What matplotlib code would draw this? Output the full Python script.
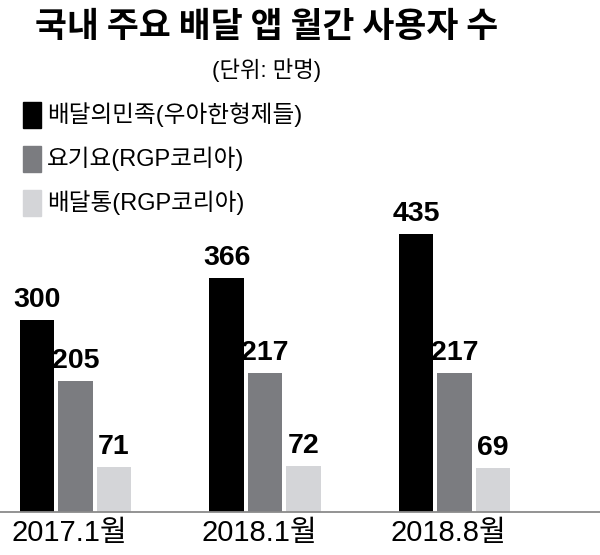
import matplotlib
matplotlib.use("Agg")
import matplotlib.pyplot as plt
from matplotlib import font_manager
from matplotlib.patches import Rectangle

# data
periods = ["2017.1월", "2018.1월", "2018.8월"]
apps = ["배달의민족(우아한형제들)", "요기요(RGP코리아)", "배달통(RGP코리아)"]
baemin = [300, 366, 435]
yogiyo = [205, 217, 217]
baedaltong = [71, 72, 69]

title = "국내 주요 배달 앱 월간 사용자 수"
unit = "(단위: 만명)"

colors = ["#000000", "#7b7c80", "#d4d5d8"]

names = {f.name for f in font_manager.fontManager.ttflist}
latin = "Liberation Sans Narrow" if "Liberation Sans Narrow" in names else "Liberation Sans"
plt.rcParams["font.family"] = [latin, "Noto Sans CJK KR", "DejaVu Sans"]

W, H = 600, 555
fig = plt.figure(figsize=(W / 100, H / 100), dpi=100)


def px(x, y):
    # pixel from top-left -> figure fraction
    return x / W, 1 - y / H


# bar axes: baseline at y=512px, 0.64 px per unit, group spacing 189.5 px
base_px = 512
top_px = 200
scale = 0.64
ax = fig.add_axes([0, (H - base_px) / H, 1, (base_px - top_px) / H])
ax.set_ylim(0, (base_px - top_px) / scale)
ax.set_xlim(-75.5 / 189.5, (W - 75.5) / 189.5)
ax.axis("off")

width = 0.182
step = 0.203
series = [baemin, yogiyo, baedaltong]
for i, vals in enumerate(series):
    xs = [g + (i - 1) * step for g in range(len(periods))]
    bars = ax.bar(xs, vals, width=width, color=colors[i], zorder=2)
    for b, v in zip(bars, vals):
        ax.text(b.get_x() + b.get_width() / 2, v + 11, str(v),
                ha="center", va="bottom", fontsize=20.5, fontweight="bold",
                clip_on=False)

ax.axhline(0, color="#8a8a8a", lw=1.3, zorder=3, clip_on=False)

for g, label in enumerate(periods):
    ax.text(g - 0.03, -11, label, ha="center", va="top", fontsize=21,
            clip_on=False)

# title and unit
fig.text(*px(267, 26), title, ha="center", va="center", fontsize=25,
         fontweight="bold", family=["Noto Sans CJK KR", "DejaVu Sans"])
fig.text(*px(267, 70), unit, ha="center", va="center", fontsize=16)

# legend
rows = [115, 159, 203]
for c, name, y in zip(colors, apps, rows):
    x0, y0 = px(23, y + 13)
    fig.add_artist(Rectangle((x0, y0), 18 / W, 26 / H, color=c,
                             transform=fig.transFigure))
    fig.text(*px(47, y), name, ha="left", va="center", fontsize=17)

fig.savefig("out.png", dpi=100)
